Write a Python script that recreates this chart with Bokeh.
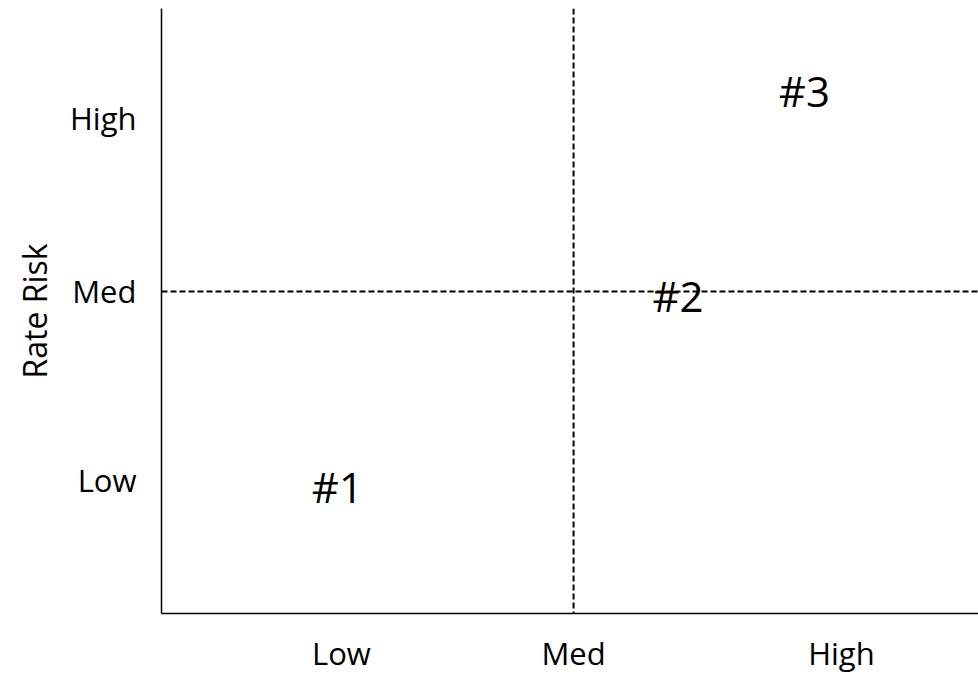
from bokeh.plotting import figure
from bokeh.models import Range1d, FixedTicker, Span, ColumnDataSource
from bokeh.core.properties import value
from bokeh.embed import file_html
from bokeh.resources import INLINE

# ---- data ----
x_tick_labels = ["Low", "Med", "High"]
x_tick_pos = [0.655, 1.5, 2.475]
y_tick_labels = ["Low", "Med", "High"]
y_tick_pos = [0.62, 1.5, 2.306]
y_axis_title = "Rate Risk"
divider_x = 1.5
divider_y = 1.5
item_labels = ["#1", "#2", "#3"]
item_x = [0.64, 1.88, 2.34]
item_y = [0.59, 1.48, 2.436]
x_extent = (0, 2.974)
y_extent = (0, 2.818)

FONT = "Open Sans"

p = figure(width=978, height=676, output_backend="svg", toolbar_location=None,
           x_range=Range1d(*x_extent), y_range=Range1d(*y_extent),
           min_border_left=161, min_border_right=0, min_border_top=8,
           min_border_bottom=63)
p.outline_line_color = None
p.xgrid.visible = False
p.ygrid.visible = False
p.background_fill_color = "white"
p.border_fill_color = "white"

for ax in (p.xaxis[0], p.yaxis[0]):
    ax.major_tick_line_color = None
    ax.minor_tick_line_color = None
    ax.major_tick_out = 0
    ax.major_tick_in = 0
    ax.minor_tick_out = 0
    ax.axis_line_color = "black"
    ax.axis_line_width = 1.5
    ax.major_label_text_font = FONT
    ax.major_label_text_font_size = "31px"
    ax.major_label_text_color = "black"
    ax.axis_label_text_font = FONT
    ax.axis_label_text_font_size = "32px"
    ax.axis_label_text_font_style = "normal"
    ax.axis_label_text_color = "black"

p.xaxis[0].ticker = FixedTicker(ticks=x_tick_pos)
p.xaxis[0].major_label_overrides = {t: l for t, l in zip(x_tick_pos, x_tick_labels)}
p.xaxis[0].major_label_standoff = 18

p.yaxis[0].ticker = FixedTicker(ticks=y_tick_pos)
p.yaxis[0].major_label_overrides = {t: l for t, l in zip(y_tick_pos, y_tick_labels)}
p.yaxis[0].major_label_standoff = 25
p.yaxis[0].major_label_orientation = "horizontal"
p.yaxis[0].axis_label = y_axis_title
p.yaxis[0].axis_label_standoff = 11

p.add_layout(Span(location=divider_x, dimension="height", line_color="black",
                  line_width=2, line_dash="6 3"))
p.add_layout(Span(location=divider_y, dimension="width", line_color="black",
                  line_width=2, line_dash="6 3"))

src = ColumnDataSource(dict(x=item_x, y=item_y, t=item_labels))
p.text(x="x", y="y", text="t", source=src, text_font=value(FONT),
       text_font_size="42px", text_align="center", text_baseline="middle",
       text_color="black")

open("out.html", "w").write(file_html(p, INLINE))
